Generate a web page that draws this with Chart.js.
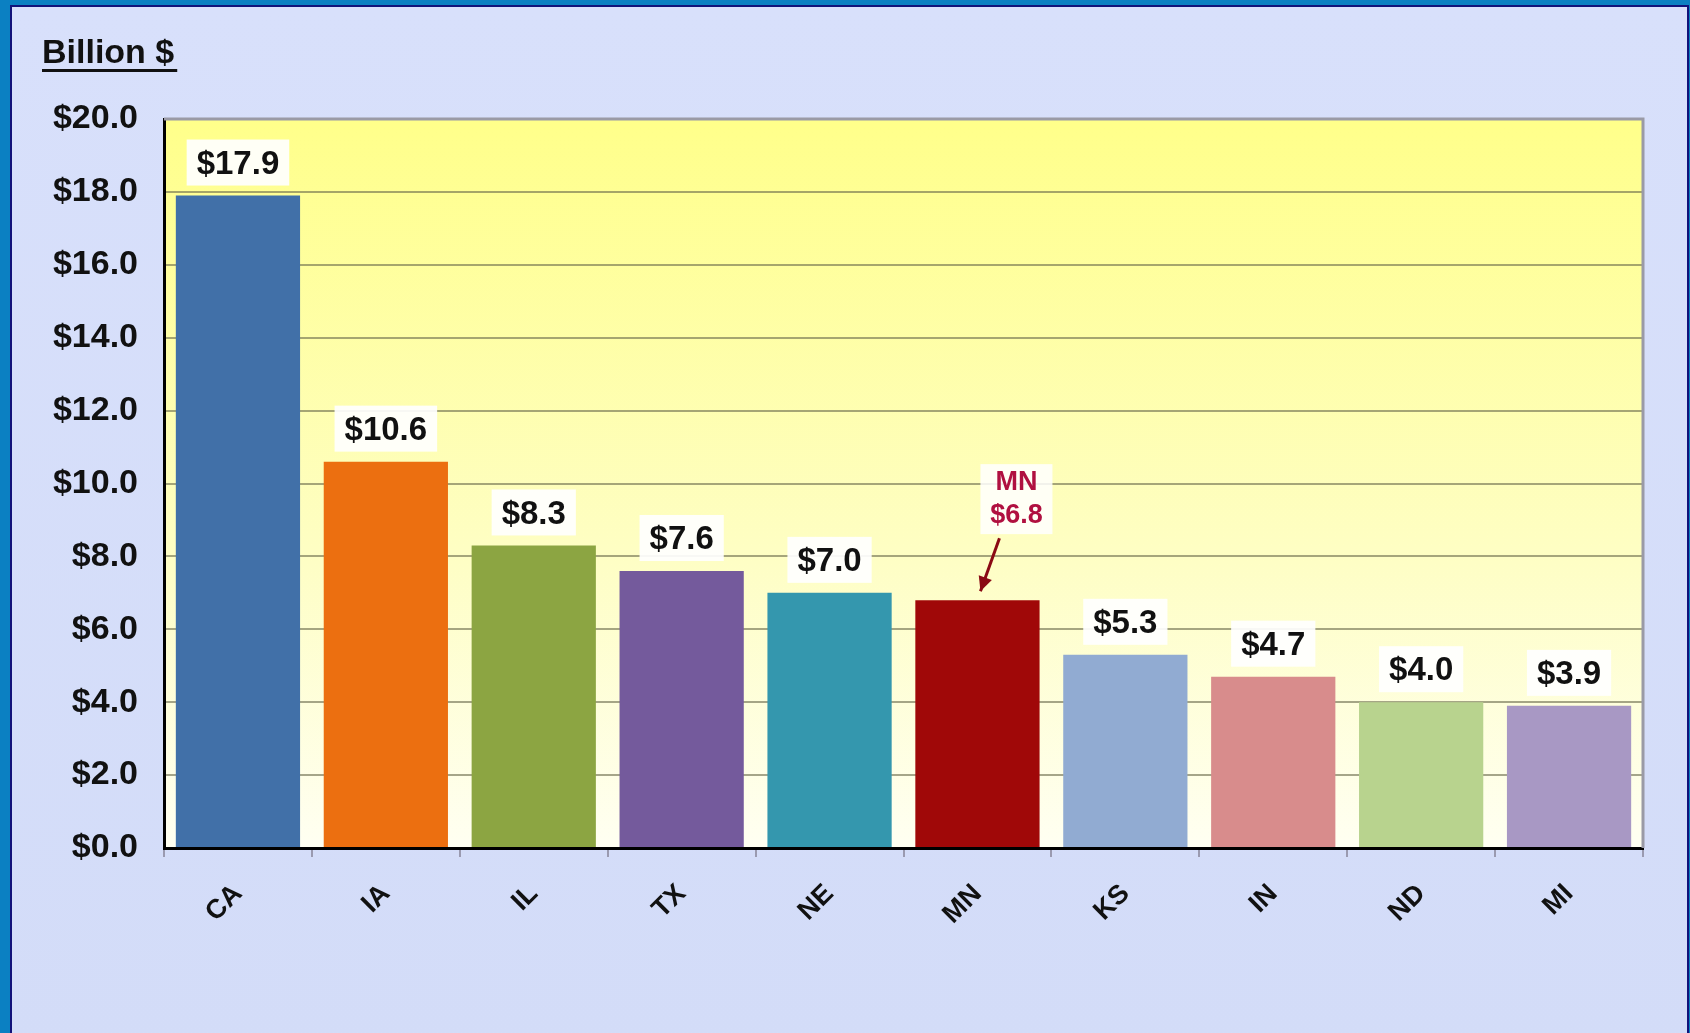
<!DOCTYPE html>
<html>
<head>
<meta charset="utf-8">
<script src="https://cdn.jsdelivr.net/npm/chart.js@4.4.1/dist/chart.umd.min.js"></script>
<style>
  html, body { margin: 0; padding: 0; width: 1690px; height: 1033px; overflow: hidden; background: #0b80c2; }
  .panel { position: absolute; left: 10px; top: 5px; width: 1675px; height: 1040px;
           background: linear-gradient(#d8e0fb, #d3dcf8); border: 2px solid #12127a; }
  canvas { position: absolute; left: 0; top: 0; }
</style>
</head>
<body>
<div class="panel"></div>
<canvas id="chart" width="1690" height="1033"></canvas>
<script>
// chart data
const states = ['CA', 'IA', 'IL', 'TX', 'NE', 'MN', 'KS', 'IN', 'ND', 'MI'];
const values = [17.9, 10.6, 8.3, 7.6, 7.0, 6.8, 5.3, 4.7, 4.0, 3.9];
const barColors = ['#4170a8', '#ec6f10', '#8ca542', '#745a9c', '#3497ae', '#a00808',
                   '#91abd2', '#d88c8c', '#b8d38e', '#a898c4'];
const yTicks = [0, 2, 4, 6, 8, 10, 12, 14, 16, 18, 20];
const unitLabel = 'Billion $';
const highlight = 'MN';

const fmt = v => '$' + v.toFixed(1);
const labelFont = 'bold 33px "Liberation Sans", Arial, sans-serif';

// yellow plot background + unit title
const backdrop = {
    id: 'backdrop',
    beforeDraw(chart) {
        const { ctx, chartArea: a } = chart;
        ctx.save();
        const g = ctx.createLinearGradient(0, a.top, 0, a.bottom);
        g.addColorStop(0, '#ffff8a');
        g.addColorStop(0.6, '#fefec4');
        g.addColorStop(1, '#fffff2');
        ctx.fillStyle = g;
        ctx.fillRect(a.left, a.top, a.right - a.left, a.bottom - a.top);

        ctx.font = 'bold 34px "Liberation Sans", Arial, sans-serif';
        ctx.fillStyle = '#111';
        ctx.textBaseline = 'alphabetic';
        ctx.fillText(unitLabel, 42, 63);
        const w = ctx.measureText(unitLabel).width;
        ctx.fillRect(42, 69, w + 3, 3);
        ctx.restore();
    },
    afterDraw(chart) {
        const { ctx, chartArea: a } = chart;
        ctx.save();
        ctx.strokeStyle = '#9a9aa6';
        ctx.lineWidth = 3;
        ctx.beginPath();
        ctx.moveTo(a.left, a.top);
        ctx.lineTo(a.right, a.top);
        ctx.lineTo(a.right, a.bottom);
        ctx.stroke();
        ctx.restore();
    }
};

// value labels above bars, MN gets a callout with arrow
const valueLabels = {
    id: 'valueLabels',
    afterDatasetsDraw(chart) {
        const { ctx } = chart;
        const meta = chart.getDatasetMeta(0);
        ctx.save();
        meta.data.forEach((bar, i) => {
            const x = bar.x, top = bar.y;
            if (states[i] === highlight) {
                ctx.font = 'bold 27px "Liberation Sans", Arial, sans-serif';
                ctx.textAlign = 'center';
                ctx.textBaseline = 'middle';
                const cx = x + 39;
                ctx.fillStyle = 'rgba(255,255,255,0.85)';
                ctx.fillRect(cx - 36, top - 136, 72, 70);
                ctx.fillStyle = '#b01040';
                ctx.fillText(states[i], cx, top - 118);
                ctx.fillText(fmt(values[i]), cx, top - 85);
                // arrow
                const x1 = x + 22, y1 = top - 62, x2 = x + 3, y2 = top - 9;
                ctx.strokeStyle = '#8a0a14';
                ctx.fillStyle = '#8a0a14';
                ctx.lineWidth = 3;
                ctx.beginPath();
                ctx.moveTo(x1, y1);
                ctx.lineTo(x2, y2);
                ctx.stroke();
                const ang = Math.atan2(y2 - y1, x2 - x1);
                ctx.beginPath();
                ctx.moveTo(x2, y2);
                ctx.lineTo(x2 - 16 * Math.cos(ang - 0.45), y2 - 16 * Math.sin(ang - 0.45));
                ctx.lineTo(x2 - 16 * Math.cos(ang + 0.45), y2 - 16 * Math.sin(ang + 0.45));
                ctx.closePath();
                ctx.fill();
                return;
            }
            const txt = fmt(values[i]);
            ctx.font = labelFont;
            const w = ctx.measureText(txt).width;
            const cy = top - 32;
            ctx.fillStyle = 'rgba(255,255,255,0.92)';
            ctx.fillRect(x - w / 2 - 10, cy - 24, w + 20, 46);
            ctx.fillStyle = '#111';
            ctx.textAlign = 'center';
            ctx.textBaseline = 'middle';
            ctx.fillText(txt, x, cy + 1);
        });
        ctx.restore();
    }
};

new Chart(document.getElementById('chart'), {
    type: 'bar',
    data: {
        labels: states,
        datasets: [{
            data: values,
            backgroundColor: barColors,
            borderWidth: 0,
            barPercentage: 0.84,
            categoryPercentage: 1.0
        }]
    },
    options: {
        responsive: false,
        animation: false,
        layout: { padding: { top: 119, right: 47, left: 0, bottom: 0 } },
        plugins: { legend: { display: false }, tooltip: { enabled: false } },
        scales: {
            x: {
                afterFit: s => { s.height = 185; },
                border: { color: '#000', width: 3 },
                grid: { offset: true, drawOnChartArea: false, drawTicks: true, tickLength: 9, color: '#9a9ab0', lineWidth: 2 },
                ticks: {
                    minRotation: 45, maxRotation: 45, padding: 21, color: '#111',
                    font: { family: '"Liberation Sans", Arial, sans-serif', size: 27, weight: 'bold' }
                }
            },
            y: {
                min: 0, max: 20,
                afterFit: s => { s.width = 164; },
                afterBuildTicks: s => { s.ticks = yTicks.map(v => ({ value: v })); },
                border: { color: '#000', width: 3 },
                grid: { drawTicks: false, color: 'rgba(105,105,75,0.6)', lineWidth: 2 },
                ticks: {
                    padding: 26, color: '#111',
                    font: { family: '"Liberation Sans", Arial, sans-serif', size: 34, weight: 'bold' },
                    callback: v => fmt(v)
                }
            }
        }
    },
    plugins: [backdrop, valueLabels]
});
</script>
</body>
</html>
